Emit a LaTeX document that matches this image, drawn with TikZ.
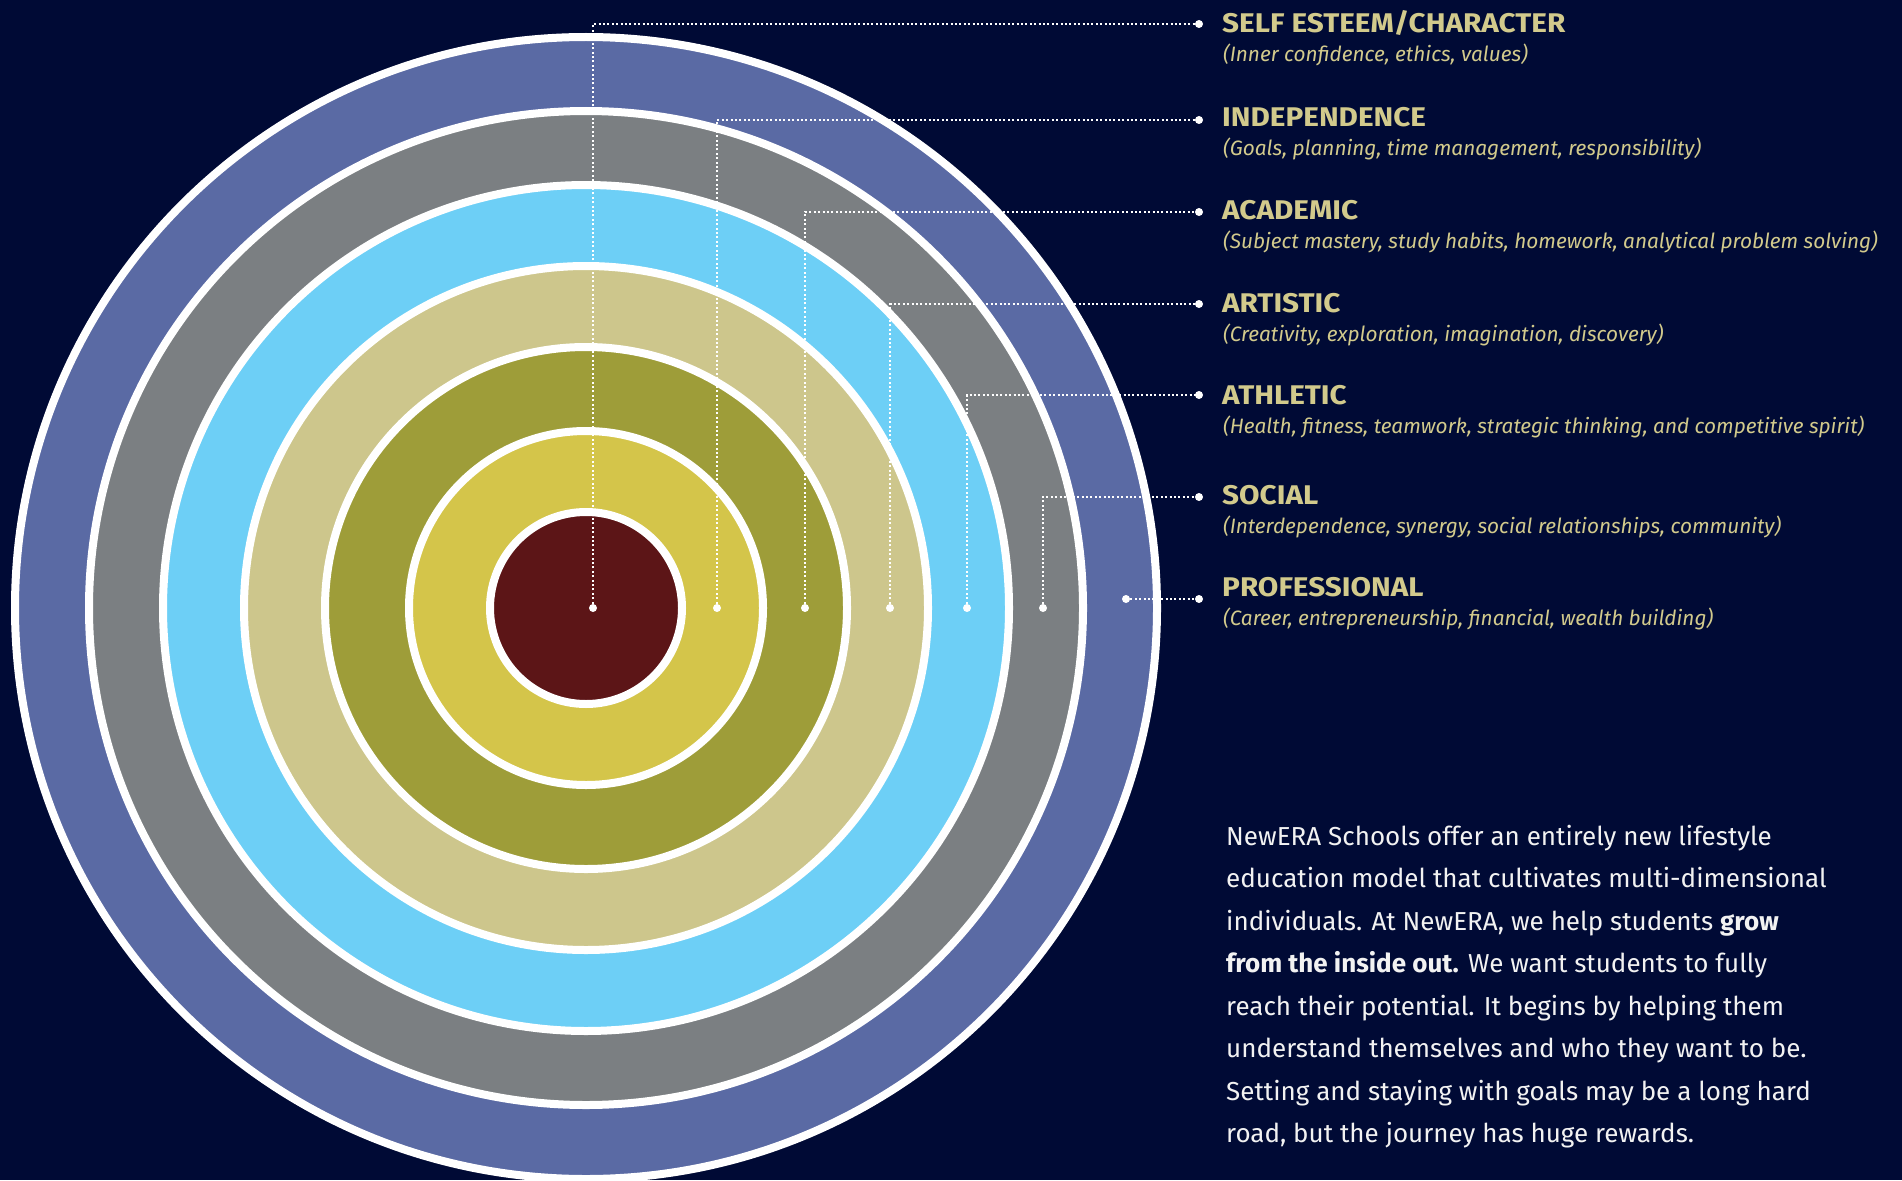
\documentclass[tikz,border=0pt]{standalone}
\usepackage{fontspec}
\setmainfont{Fira Sans}
\newfontfamily\titlefont[FakeStretch=1.1]{Fira Sans}
\definecolor{bgnavy}{HTML}{000A35}
\definecolor{ringblue}{HTML}{5A6AA4}
\definecolor{ringgray}{HTML}{7B7F82}
\definecolor{ringsky}{HTML}{6DCFF6}
\definecolor{ringbeige}{HTML}{CDC68C}
\definecolor{ringolive}{HTML}{9E9D39}
\definecolor{ringyellow}{HTML}{D4C54A}
\definecolor{ringred}{HTML}{5C1517}
\definecolor{labelcol}{HTML}{D2CA8C}
\definecolor{bodycol}{HTML}{F2F2F2}
\tikzset{
  ring/.style={fill=#1, draw=white, line width=8pt},
  dotnode/.style={circle, fill=white, inner sep=0pt, minimum size=8pt},
  dotline/.style={draw=white, line width=2pt, dash pattern=on 2pt off 2.4pt},
  ttl/.style={anchor=base west, inner sep=0pt, text=labelcol, font=\titlefont\fontsize{27}{30}\selectfont\bfseries},
  subttl/.style={anchor=base west, inner sep=0pt, text=labelcol, font=\fontsize{20.8}{24}\selectfont\itshape},
  bodytext/.style={anchor=base west, inner sep=0pt, text=bodycol, align=left, font=\fontsize{26}{42.5}\selectfont}
}
\begin{document}
\begin{tikzpicture}[x=1pt,y=-1pt]
\useasboundingbox (0,0) rectangle (1902,1180);
\fill[bgnavy] (0,0) rectangle (1902,1180);
\begin{scope}
\clip (0,0) rectangle (1902,1180);
\coordinate (c) at (586,608);
\path[ring=ringblue] (c) circle[radius=571pt];
\path[ring=ringgray] (c) circle[radius=497pt];
\path[ring=ringsky] (c) circle[radius=423pt];
\path[ring=ringbeige] (c) circle[radius=342pt];
\path[ring=ringolive] (c) circle[radius=261pt];
\path[ring=ringyellow] (c) circle[radius=177pt];
\path[ring=ringred] (c) circle[radius=96pt];
\end{scope}

% inner dots
\node[dotnode] (a1) at (593,608) {};
\node[dotnode] (a2) at (717,608) {};
\node[dotnode] (a3) at (805,608) {};
\node[dotnode] (a4) at (890,608) {};
\node[dotnode] (a5) at (967,608) {};
\node[dotnode] (a6) at (1043,608) {};
\node[dotnode] (a7) at (1126,599) {};
% label dots
\node[dotnode] (b1) at (1199,24) {};
\node[dotnode] (b2) at (1199,120) {};
\node[dotnode] (b3) at (1199,212) {};
\node[dotnode] (b4) at (1199,304) {};
\node[dotnode] (b5) at (1199,395) {};
\node[dotnode] (b6) at (1199,497) {};
\node[dotnode] (b7) at (1199,599) {};

\draw[dotline] (a1.center) |- (b1.center);
\draw[dotline] (a2.center) |- (b2.center);
\draw[dotline] (a3.center) |- (b3.center);
\draw[dotline] (a4.center) |- (b4.center);
\draw[dotline] (a5.center) |- (b5.center);
\draw[dotline] (a6.center) |- (b6.center);
\draw[dotline] (a7.center) -- (b7.center);

\node[ttl] (t1) at (1222,33) {SELF ESTEEM/CHARACTER};
\node[subttl] (s1) at (1223,62) {(Inner confidence, ethics, values)};
\node[ttl] (t2) at (1222,126) {INDEPENDENCE};
\node[subttl] (s2) at (1223,155) {(Goals, planning, time management, responsibility)};
\node[ttl] (t3) at (1222,219) {ACADEMIC};
\node[subttl] (s3) at (1223,248) {(Subject mastery, study habits, homework, analytical problem solving)};
\node[ttl] (t4) at (1222,312) {ARTISTIC};
\node[subttl] (s4) at (1223,341) {(Creativity, exploration, imagination, discovery)};
\node[ttl] (t5) at (1222,404) {ATHLETIC};
\node[subttl] (s5) at (1223,433) {(Health, fitness, teamwork, strategic thinking, and competitive spirit)};
\node[ttl] (t6) at (1222,504) {SOCIAL};
\node[subttl] (s6) at (1223,533) {(Interdependence, synergy, social relationships, community)};
\node[ttl] (t7) at (1222,596) {PROFESSIONAL};
\node[subttl] (s7) at (1223,625) {(Career, entrepreneurship, financial, wealth building)};

\node[bodytext] (body) at (1226,1142.5) {NewERA Schools offer an entirely new lifestyle\\
education model that cultivates multi-dimensional\\
individuals. At NewERA, we help students \textbf{grow}\\
\textbf{from the inside out.} We want students to fully\\
reach their potential. It begins by helping them\\
understand themselves and who they want to be.\\
Setting and staying with goals may be a long hard\\
road, but the journey has huge rewards.};
\end{tikzpicture}
\end{document}
